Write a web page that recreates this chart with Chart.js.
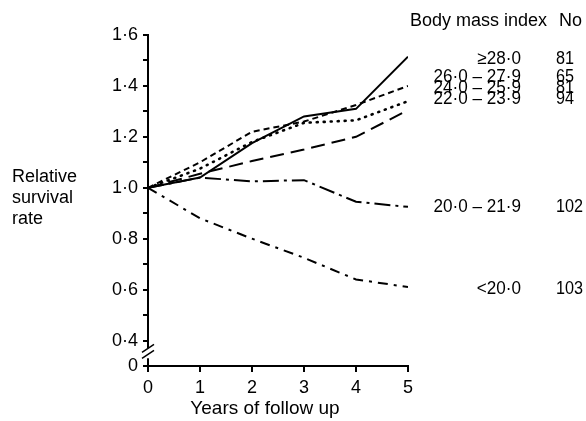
<!DOCTYPE html>
<html>
<head>
<meta charset="utf-8">
<script src="https://cdn.jsdelivr.net/npm/chart.js@4"></script>
<style>
  html, body { margin: 0; padding: 0; background: #fff; }
  #wrap { width: 586px; height: 421px; }
</style>
</head>
<body>
<div id="wrap"><canvas id="chart" width="586" height="421"></canvas></div>
<script>
// data
var years = [0, 1, 2, 3, 4, 5];
var bmiGroups = ['\u226528\u00B70', '26\u00B70 \u2013 27\u00B79', '24\u00B70 \u2013 25\u00B79', '22\u00B70 \u2013 23\u00B79', '20\u00B70 \u2013 21\u00B79', '<20\u00B70'];
var groupNo = [81, 65, 81, 94, 102, 103];
var bmi28 = [1.00, 1.04, 1.175, 1.28, 1.31, 1.515];
var bmi26 = [1.00, 1.10, 1.22, 1.26, 1.325, 1.40];
var bmi24 = [1.00, 1.075, 1.18, 1.255, 1.265, 1.34];
var bmi22 = [1.00, 1.055, 1.105, 1.15, 1.20, 1.305];
var bmi20 = [1.00, 1.04, 1.025, 1.03, 0.945, 0.925];
var bmiLow = [1.00, 0.88, 0.80, 0.725, 0.64, 0.61];
// y axis is broken: value 0.3 stands for the "0" at the bottom
var yTicks = [0.3, 0.4, 0.5, 0.6, 0.7, 0.8, 0.9, 1.0, 1.1, 1.2, 1.3, 1.4, 1.5, 1.6];
var xTicks = [0, 1, 2, 3, 4, 5];

// where the right hand labels sit (in axis units)
var labelAt = [1.507, 1.436, 1.393, 1.35, 0.925, 0.603];
var headerAt = 1.654;

var FONT = '"Liberation Sans", Arial, sans-serif';
var dashes = [[], [6, 4], [1, 6], [14, 7], [16, 5, 3, 5], [10, 6, 3, 6]];
var series = [bmi28, bmi26, bmi24, bmi22, bmi20, bmiLow];

const datasets = series.map((s, i) => ({
    label: bmiGroups[i],
    data: s,
    borderColor: '#000',
    borderWidth: i == 2 ? 2.6 : 2,
    borderDash: dashes[i],
    borderCapStyle: i == 2 ? 'round' : 'butt',
    pointRadius: 0,
    tension: 0,
    fill: false
}));

function fmt(v) {
    return v.toFixed(1).replace('.', '\u00B7');
}

const textPlugin = {
    id: 'texts',
    afterDraw(chart) {
        const ctx = chart.ctx;
        const y = chart.scales.y;
        const x = chart.scales.x;
        ctx.save();
        ctx.fillStyle = '#000';
        ctx.font = '18px ' + FONT;
        ctx.textBaseline = 'middle';

        // axis break marks
        const yb = y.getPixelForValue(0.35);
        const xb = x.left;
        ctx.fillStyle = '#fff';
        ctx.fillRect(xb - 3, yb - 5, 6, 10);
        ctx.strokeStyle = '#000';
        ctx.lineWidth = 1.5;
        ctx.beginPath();
        ctx.moveTo(xb - 6, yb - 1); ctx.lineTo(xb + 6, yb - 9);
        ctx.moveTo(xb - 6, yb + 5); ctx.lineTo(xb + 6, yb - 3);
        ctx.stroke();

        ctx.fillStyle = '#000';
        // y title, written flat on the left
        ctx.textAlign = 'left';
        ctx.fillText('Relative', 12, 177);
        ctx.fillText('survival', 12, 198);
        ctx.fillText('rate', 12, 219);

        // x title
        ctx.textAlign = 'center';
        ctx.font = '19px ' + FONT;
        ctx.fillText('Years of follow up', 265, 409);
        ctx.font = '18px ' + FONT;
        ctx.textAlign = 'left';

        // header
        const hy = y.getPixelForValue(headerAt);
        ctx.fillText('Body mass index', 410, hy);
        ctx.fillText('No', 559, hy);

        bmiGroups.forEach((g, i) => {
            const py = y.getPixelForValue(labelAt[i]);
            ctx.save();
            ctx.textAlign = 'right';
            ctx.translate(521, py);
            ctx.scale(0.95, 1);
            ctx.fillText(g, 0, 0);
            ctx.restore();
            ctx.textAlign = 'left';
            ctx.save();
            ctx.translate(556, py);
            ctx.scale(0.9, 1);
            ctx.fillText(String(groupNo[i]), 0, 0);
            ctx.restore();
        });
        ctx.restore();
    }
};

const chart = new Chart(document.getElementById('chart').getContext('2d'), {
    type: 'line',
    data: { labels: years, datasets: datasets },
    options: {
        responsive: false,
        animation: false,
        layout: { padding: { left: 0, top: 35, right: 178, bottom: 0 } },
        plugins: { legend: { display: false }, tooltip: { enabled: false } },
        scales: {
            x: {
                type: 'linear',
                min: 0,
                max: 5,
                afterBuildTicks: (s) => { s.ticks = xTicks.map(v => ({ value: v })); },
                afterFit: (s) => { s.height = 421 - 366; },
                border: { display: true, color: '#000', width: 2 },
                grid: { drawOnChartArea: false, drawTicks: true, tickLength: 6, color: '#000', lineWidth: 2 },
                ticks: { color: '#000', font: { family: FONT, size: 18 }, padding: 5, maxRotation: 0 }
            },
            y: {
                min: 0.3,
                max: 1.6,
                afterBuildTicks: (s) => { s.ticks = yTicks.map(v => ({ value: v })); },
                afterFit: (s) => { s.width = 148; },
                border: { display: true, color: '#000', width: 2 },
                grid: { drawOnChartArea: false, drawTicks: true, tickLength: 5, color: '#000', lineWidth: 2 },
                ticks: {
                    color: '#000',
                    autoSkip: false,
                    padding: 5,
                    font: { family: FONT, size: 18 },
                    callback: (v) => {
                        const t = Math.round(v * 10);
                        if (t == 3) return '0';
                        return t % 2 == 0 ? fmt(v) : '';
                    }
                }
            }
        }
    },
    plugins: [textPlugin]
});
</script>
</body>
</html>
